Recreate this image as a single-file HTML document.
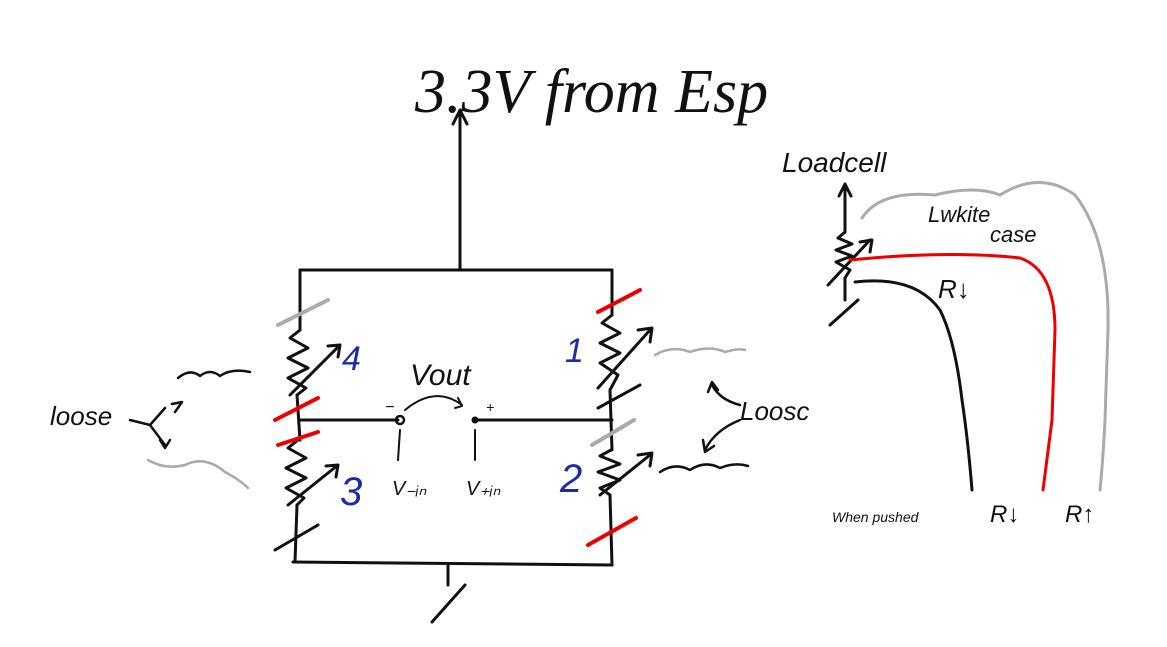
<!DOCTYPE html>
<html><head><meta charset="utf-8"><style>
html,body{margin:0;padding:0;background:#fff;}
svg{display:block;}
text{font-family:"Liberation Sans",sans-serif;font-style:italic;fill:#111;}
</style></head><body>
<svg width="1167" height="647" viewBox="0 0 1167 647" xmlns="http://www.w3.org/2000/svg" fill="none" stroke-linecap="round" stroke-linejoin="round">
<!-- title -->
<text x="415" y="112" font-size="62" style="font-family:'Liberation Serif',serif">3.3V from Esp</text>
<!-- supply arrow -->
<path d="M460 270 L460 112 M453 124 L460 110 L467 124" stroke="#111" stroke-width="3"/>
<!-- bridge frame -->
<g stroke="#111" stroke-width="3">
<path d="M300 270 L612 270"/>
<path d="M300 270 L300 330 M297 395 L300 440 M297 505 L295 562"/>
<path d="M612 270 L612 315 M610 390 L612 450 M610 495 L612 565"/>
<path d="M293 562 L612 565"/>
<path d="M300 420 L398 420 M475 420 L612 420"/>
<!-- zigzags -->
<path d="M300 330 L290 338 L308 348 L288 358 L308 368 L288 378 L306 388 L297 395"/>
<path d="M298 440 L288 448 L306 458 L286 468 L306 478 L286 488 L304 498 L297 505"/>
<path d="M612 315 L602 323 L620 333 L600 343 L620 353 L600 363 L618 375 L610 390"/>
<path d="M611 450 L600 456 L620 464 L598 472 L620 480 L600 488 L610 495"/>
<!-- adjust arrows -->
<path d="M290 395 L340 345 M328 346 L340 345 L338 357"/>
<path d="M288 505 L338 465 M326 466 L338 465 L336 477"/>
<path d="M598 388 L650 330 M638 330 L652 328 L650 342"/>
<path d="M600 495 L650 455 M638 455 L652 453 L650 466"/>
<!-- ground -->
<path d="M448 565 L448 585 M432 622 L465 585"/>
<!-- black slashes -->
<path d="M275 550 L318 525"/>
<path d="M598 408 L640 385"/>
</g>
<!-- red slashes -->
<g stroke="#e00" stroke-width="4">
<path d="M275 420 L318 398"/><path d="M278 445 L318 432"/>
<path d="M598 312 L640 290"/><path d="M588 545 L636 518"/>
</g>
<!-- gray slashes -->
<g stroke="#aaa" stroke-width="4">
<path d="M278 325 L328 300"/><path d="M592 445 L634 420"/>
</g>
<!-- nodes -->
<circle cx="400" cy="420" r="4" stroke="#111" stroke-width="2.5"/>
<circle cx="475" cy="420" r="3" fill="#111" stroke="#111"/>
<path d="M400 430 L398 460 M475 430 L475 460" stroke="#111" stroke-width="2"/>
<path d="M405 410 Q435 385 462 405 M458 398 L462 406 L455 408" stroke="#111" stroke-width="2"/>
<text x="385" y="412" font-size="16">−</text><text x="486" y="412" font-size="14">+</text>
<text x="410" y="385" font-size="30">Vout</text>
<text x="392" y="495" font-size="20">V₋ᵢₙ</text>
<text x="466" y="495" font-size="20">V₊ᵢₙ</text>
<!-- numbers -->
<text x="342" y="370" font-size="34" style="fill:#1a2aa8">4</text>
<text x="565" y="362" font-size="34" style="fill:#1a2aa8">1</text>
<text x="340" y="505" font-size="40" style="fill:#1a2aa8">3</text>
<text x="560" y="492" font-size="40" style="fill:#1a2aa8">2</text>
<!-- loose labels -->
<text x="50" y="425" font-size="26">loose</text>
<text x="740" y="420" font-size="26">Loosc</text>
<g stroke="#111" stroke-width="2.5">
<path d="M178 378 Q190 368 200 376 Q210 368 220 376 Q232 368 250 372"/>
<path d="M130 420 L150 425 L165 408 M175 412 L182 402 L172 404 M150 425 L165 445 M160 440 L165 448 L170 440"/>
<path d="M660 472 Q675 462 690 470 Q705 460 720 468 Q735 462 748 466"/>
<path d="M740 405 Q720 400 712 385 M708 392 L712 382 L718 390"/>
<path d="M740 420 Q715 430 705 450 M703 440 L705 452 L714 446"/>
</g>
<g stroke="#aaa" stroke-width="2.5">
<path d="M148 460 Q165 470 185 465 Q205 455 225 472 Q240 480 248 488"/>
<path d="M655 355 Q672 345 690 352 Q710 345 725 352 Q738 348 745 350"/>
</g>
<!-- load cell -->
<text x="782" y="172" font-size="28">Loadcell</text>
<g stroke="#111" stroke-width="3">
<path d="M845 232 L845 185 M839 196 L845 184 L851 196"/>
<path d="M845 232 L838 238 L852 244 L836 250 L852 256 L836 262 L850 270 L845 278"/>
<path d="M828 285 L870 240 M860 242 L872 240 L870 252"/>
<path d="M845 278 L845 300 M830 325 L858 300"/>
<path d="M855 282 Q915 275 940 310 Q955 340 962 400 Q968 440 972 490"/>
</g>
<path d="M850 260 Q950 250 1020 258 Q1055 270 1055 330 L1052 420 L1043 490" stroke="#e00" stroke-width="3"/>
<path d="M862 218 Q880 190 935 195 Q975 185 1000 195 Q1040 170 1075 195 Q1110 240 1108 330 L1105 420 Q1103 460 1100 490" stroke="#aaa" stroke-width="3"/>
<text x="928" y="222" font-size="22">Lwkite</text>
<text x="990" y="242" font-size="22">case</text>
<text x="938" y="298" font-size="26">R↓</text>
<text x="832" y="522" font-size="14">When pushed</text>
<text x="990" y="522" font-size="24">R↓</text>
<text x="1065" y="522" font-size="24">R↑</text>
</svg>
</body></html>
